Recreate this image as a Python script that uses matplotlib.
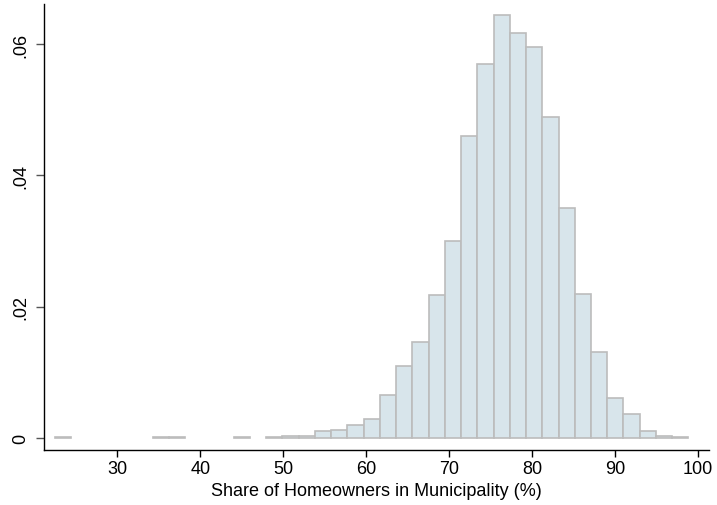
import matplotlib
matplotlib.use("Agg")
import matplotlib.pyplot as plt
import numpy as np

# Histogram bins (Stata-style: start at min, 39 bins)
bin_start = 22.5
bin_width = 1.957
densities = [
    0.00015, 0, 0, 0, 0, 0, 0.00015, 0.00015, 0, 0,
    0, 0.00025, 0, 0.00015, 0.0004, 0.0004, 0.00106, 0.00122, 0.0020, 0.0030,
    0.0066, 0.0110, 0.0147, 0.0218, 0.0300, 0.04595, 0.05695, 0.06436, 0.06172, 0.0595,
    0.0489, 0.0351, 0.02196, 0.0132, 0.0061, 0.00375, 0.00106, 0.0004, 0.00025,
]
x_ticks = [30, 40, 50, 60, 70, 80, 90, 100]
y_ticks = [0, 0.02, 0.04, 0.06]
y_tick_labels = ["0", ".02", ".04", ".06"]
x_label = "Share of Homeowners in Municipality (%)"

plt.rcParams['font.family'] = ['Liberation Sans', 'DejaVu Sans']

fig = plt.figure(figsize=(7.17, 5.06), dpi=100)
ax = fig.add_axes([0.0607, 0.1087, 0.9281, 0.8813])

dens = np.array(densities)
edges = bin_start + bin_width * np.arange(len(dens))
mask = dens > 0
ax.bar(edges[mask], dens[mask], width=bin_width, align='edge',
       color='#d8e5eb', edgecolor='#bcbcbc', linewidth=1.2)

ax.set_xlim(21.1, 101.3)
ax.set_ylim(-0.00178, 0.06608)
ax.set_xticks(x_ticks)
ax.set_yticks(y_ticks)
ax.set_yticklabels(y_tick_labels, rotation=90, va='center')
ax.set_xlabel(x_label, fontsize=13, labelpad=4)

for s in ['top', 'right']:
    ax.spines[s].set_visible(False)
for s in ['left', 'bottom']:
    ax.spines[s].set_linewidth(1.0)
    ax.spines[s].set_color('black')

ax.tick_params(axis='x', labelsize=13, length=5, width=1, pad=2)
ax.tick_params(axis='y', labelsize=13, length=6, width=1, pad=4, color='#555555')

fig.savefig("out.png", dpi=100)
